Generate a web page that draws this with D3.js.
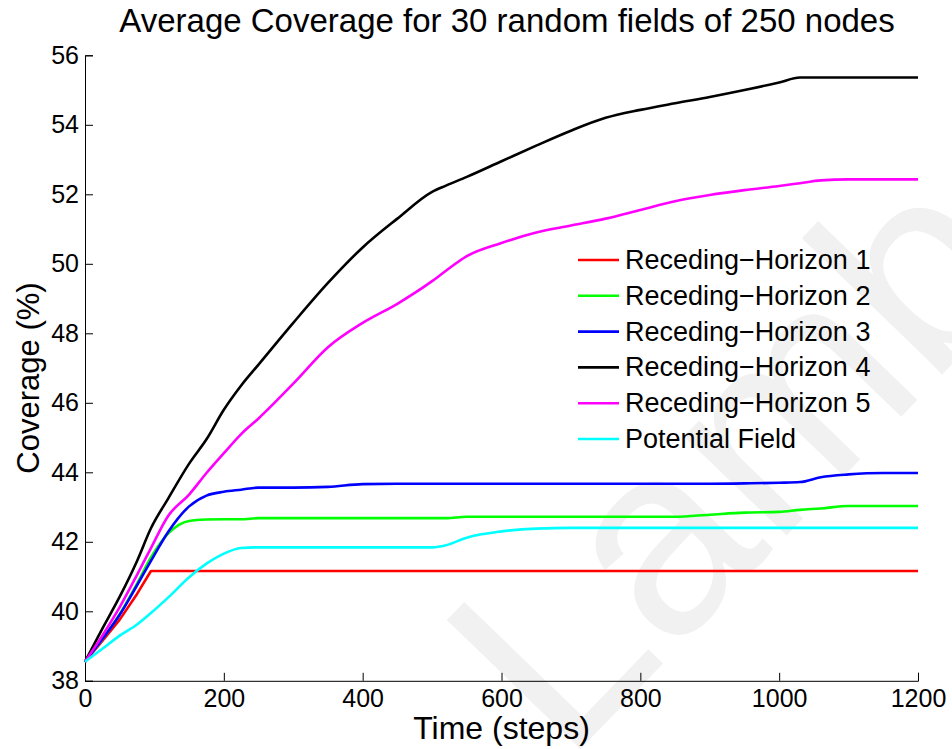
<!DOCTYPE html>
<html>
<head>
<meta charset="utf-8">
<script src="https://cdn.jsdelivr.net/npm/d3@7"></script>
<style>
  html, body { margin: 0; padding: 0; background: #fff; }
  svg { display: block; font-family: "Liberation Sans", Arial, Helvetica, sans-serif; }
</style>
</head>
<body>
<svg id="chart" width="952" height="749"></svg>
<script>
// Simulation time steps at which the averaged coverage was sampled
const steps = [0, 25, 50, 75, 95, 120, 150, 175, 200, 225, 250, 300, 350, 400, 450, 500, 520, 550,
               600, 650, 700, 750, 800, 850, 900, 950, 1000, 1030, 1060, 1100, 1150, 1200];

// Average coverage (%) per strategy
const rh1 = [38.55, 39.15, 39.76, 40.5, 41.16, 41.16, 41.16, 41.16, 41.16, 41.16, 41.16, 41.16, 41.16, 41.16, 41.16, 41.16,
             41.16, 41.16, 41.16, 41.16, 41.16, 41.16, 41.16, 41.16, 41.16, 41.16, 41.16, 41.16, 41.16, 41.16, 41.16, 41.16];
const rh2 = [38.55, 39.2, 39.92, 40.8, 41.55, 42.24, 42.6, 42.64, 42.65, 42.65, 42.68, 42.68, 42.68, 42.68, 42.68, 42.68,
             42.68, 42.72, 42.72, 42.72, 42.72, 42.72, 42.72, 42.72, 42.78, 42.84, 42.86, 42.92, 42.96, 43.03, 43.03, 43.03];
const rh3 = [38.55, 39.2, 39.9, 40.75, 41.45, 42.29, 43.02, 43.33, 43.44, 43.5, 43.56, 43.56, 43.58, 43.66, 43.67, 43.67,
             43.67, 43.67, 43.67, 43.67, 43.67, 43.67, 43.67, 43.67, 43.67, 43.68, 43.7, 43.72, 43.86, 43.94, 43.98, 43.98];
const rh4 = [38.55, 39.5, 40.42, 41.45, 42.39, 43.25, 44.25, 44.95, 45.8, 46.5, 47.1, 48.3, 49.45, 50.47, 51.3, 52.07,
             52.25, 52.5, 52.95, 53.4, 53.83, 54.2, 54.43, 54.62, 54.8, 55.0, 55.22, 55.36, 55.36, 55.36, 55.36, 55.36];
const rh5 = [38.55, 39.3, 40.12, 41.05, 41.82, 42.75, 43.36, 43.98, 44.55, 45.1, 45.55, 46.55, 47.6, 48.3, 48.85, 49.5,
             49.8, 50.22, 50.6, 50.9, 51.1, 51.3, 51.55, 51.8, 51.98, 52.12, 52.24, 52.32, 52.4, 52.43, 52.43, 52.43];
const pf  = [38.55, 38.92, 39.3, 39.62, 39.95, 40.4, 40.98, 41.37, 41.66, 41.82, 41.84, 41.84, 41.84, 41.84, 41.84, 41.84,
             41.9, 42.12, 42.3, 42.38, 42.4, 42.4, 42.4, 42.4, 42.4, 42.4, 42.4, 42.4, 42.4, 42.4, 42.4, 42.4];

const seriesNames = ["Receding\u2212Horizon 1", "Receding\u2212Horizon 2", "Receding\u2212Horizon 3",
                     "Receding\u2212Horizon 4", "Receding\u2212Horizon 5", "Potential Field"];
const seriesValues = [rh1, rh2, rh3, rh4, rh5, pf];
const seriesColors = ["#ff0000", "#00ff00", "#0000ff", "#000000", "#ff00ff", "#00ffff"];

const xTicks = [0, 200, 400, 600, 800, 1000, 1200];
const yTicks = [38, 40, 42, 44, 46, 48, 50, 52, 54, 56];

const titleText = "Average Coverage for 30 random fields of 250 nodes";
const xLabel = "Time (steps)";
const yLabel = "Coverage (%)";
const watermark = "Lambert";

const svg = d3.select("#chart");
const plot = { left: 85, right: 918, top: 55.3, bottom: 680.8 };

const x = d3.scaleLinear().domain([0, 1200]).range([plot.left, plot.right]);
const y = d3.scaleLinear().domain([38, 56]).range([plot.bottom, plot.top]);

// faint diagonal watermark behind everything
svg.append("text")
  .attr("transform", "translate(565,765) rotate(-46)")
  .attr("font-size", 270)
  .attr("fill", "#f1f1f1")
  .text(watermark);

// title
svg.append("text")
  .attr("x", 507)
  .attr("y", 32)
  .attr("text-anchor", "middle")
  .attr("font-size", 33)
  .attr("fill", "#000")
  .text(titleText);

// axes: ticks point inward, as in the plotting tool's default style
const xAxis = d3.axisBottom(x).tickValues(xTicks).tickSize(-8).tickPadding(8).tickFormat(d3.format("d"));
const yAxis = d3.axisLeft(y).tickValues(yTicks).tickSize(-8).tickPadding(6).tickFormat(d3.format("d"));

const gx = svg.append("g").attr("transform", `translate(0,${plot.bottom})`).call(xAxis);
const gy = svg.append("g").attr("transform", `translate(${plot.left},0)`).call(yAxis);

[gx, gy].forEach(g => {
  g.select(".domain").attr("stroke", "#000").attr("stroke-width", 1);
  g.selectAll(".tick line").attr("stroke", "#000").attr("stroke-width", 1);
  g.selectAll(".tick text").attr("font-size", 25).attr("fill", "#000")
    .attr("font-family", "Liberation Sans, Arial, sans-serif");
});
gx.selectAll(".tick text").attr("dy", "0.71em");

// axis labels
svg.append("text")
  .attr("x", (plot.left + plot.right) / 2)
  .attr("y", 739)
  .attr("text-anchor", "middle")
  .attr("font-size", 32)
  .text(xLabel);

svg.append("text")
  .attr("transform", "translate(39,378) rotate(-90)")
  .attr("text-anchor", "middle")
  .attr("font-size", 31)
  .text(yLabel);

// coverage curves; the first horizon saturates abruptly, so it keeps straight segments
const smooth = d3.line().x((d, i) => x(steps[i])).y(d => y(d)).curve(d3.curveMonotoneX);
const straight = d3.line().x((d, i) => x(steps[i])).y(d => y(d));

svg.append("g").selectAll("path")
  .data(seriesValues)
  .join("path")
  .attr("d", (d, i) => (i === 0 ? straight : smooth)(d))
  .attr("fill", "none")
  .attr("stroke", (d, i) => seriesColors[i])
  .attr("stroke-width", 2.6)
  .attr("stroke-linejoin", "round");

// legend
const legend = svg.append("g").attr("transform", "translate(578,260)");
const rows = legend.selectAll("g")
  .data(seriesNames)
  .join("g")
  .attr("transform", (d, i) => `translate(0,${i * 35.8})`);
rows.append("line")
  .attr("x1", 0).attr("x2", 41)
  .attr("y1", 0).attr("y2", 0)
  .attr("stroke", (d, i) => seriesColors[i])
  .attr("stroke-width", 2.6);
rows.append("text")
  .attr("x", 47)
  .attr("y", 9)
  .attr("font-size", 27)
  .text(d => d);
</script>
</body>
</html>
